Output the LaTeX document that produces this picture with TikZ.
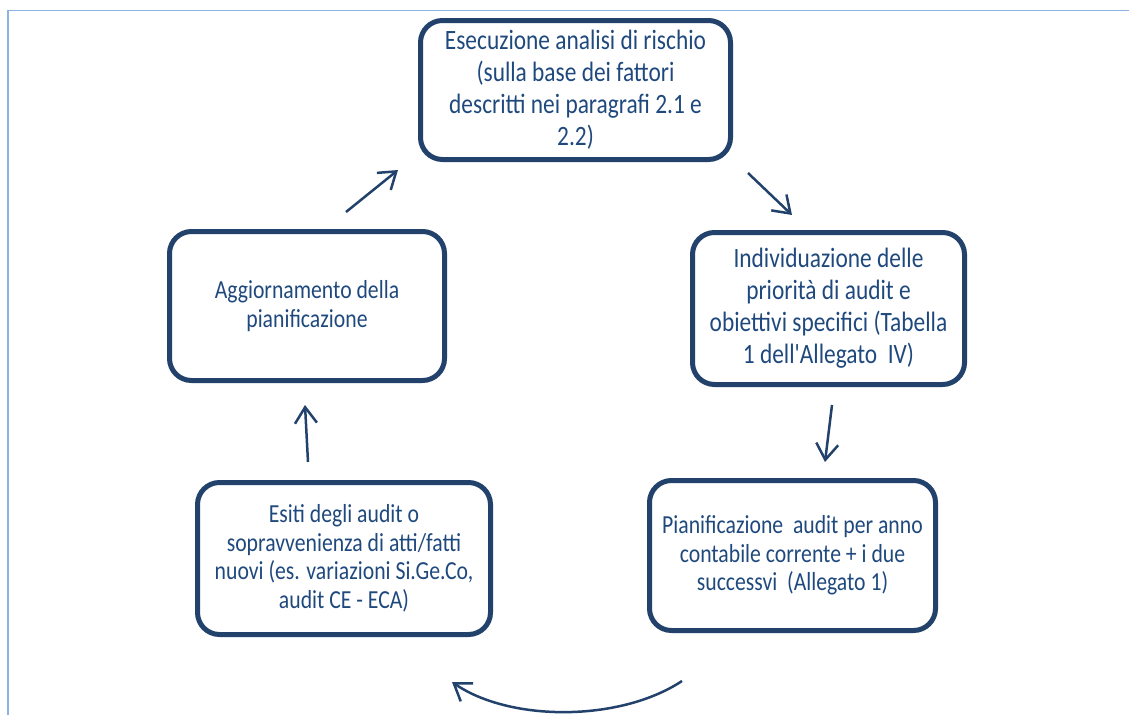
\documentclass[tikz,border=0pt]{standalone}
\usepackage{fontspec}
\setmainfont{Carlito}[FakeStretch=0.835,Ligatures=TeXOff]
\usepackage{tikz}
\usetikzlibrary{arrows.meta}
\definecolor{navy}{RGB}{34,66,108}
\definecolor{textblue}{RGB}{31,73,125}
\definecolor{frameblue}{RGB}{141,179,226}

\begin{document}
\begin{tikzpicture}[x=1pt,y=-1pt,
  box/.style={draw=navy,line width=5pt,rounded corners=22pt,align=center,text=textblue,inner sep=0pt},
  big/.style={font=\fontsize{28}{32}\selectfont},
  small/.style={font=\fontsize{26}{28.5}\selectfont},
  arr/.style={draw=navy,line width=2.5pt,-{Straight Barb[length=16pt,width=22pt]}}]
  \useasboundingbox (0,0) rectangle (1129,715);
  \draw[frameblue,line width=1.5pt] (8,715) -- (8,10.5) -- (1129,10.5);

  % the five steps of the cycle
  \node[box,big,minimum width=310pt,minimum height=139pt] (analisi) at (575.5,90)
    {Esecuzione analisi di rischio\\(sulla base dei fattori\\descritti nei paragrafi 2.1 e\\2.2)};
  \node[box,big,minimum width=272pt,minimum height=152pt] (priorita) at (828.5,308.5)
    {Individuazione delle\\priorità di audit e\\obiettivi specifici (Tabella\\1 dell'Allegato\ \ IV)};
  \node[box,small,minimum width=286pt,minimum height=150pt] (pianif) at (792.5,555.5)
    {Pianificazione\ \ audit per anno\\contabile corrente + i due\\successvi\ \ (Allegato 1)};
  \node[box,small,minimum width=293pt,minimum height=152pt] (esiti) at (344,558.5)
    {Esiti degli audit o\\sopravvenienza di atti/fatti\\nuovi (es. variazioni Si.Ge.Co,\\audit CE - ECA)};
  \node[box,small,minimum width=275pt,minimum height=149pt] (aggiorn) at (307,306)
    {Aggiornamento della\\pianificazione};

  % arrow ends
  \coordinate (s1) at (748,173);  \coordinate (e1) at (792,215);
  \coordinate (s2) at (832,405);  \coordinate (e2) at (825,462);
  \coordinate (s3) at (682,681);  \coordinate (e3) at (452,682);
  \coordinate (s4) at (308,462);  \coordinate (e4) at (305,405);
  \coordinate (s5) at (346,212);  \coordinate (e5) at (398,170);

  \foreach \a/\b in {s1/e1,s2/e2,s4/e4,s5/e5}
    \draw[arr] (\a) -- (\b);
  \draw[arr] (s3) .. controls (620,722) and (510,722) .. (e3);
\end{tikzpicture}
\end{document}
